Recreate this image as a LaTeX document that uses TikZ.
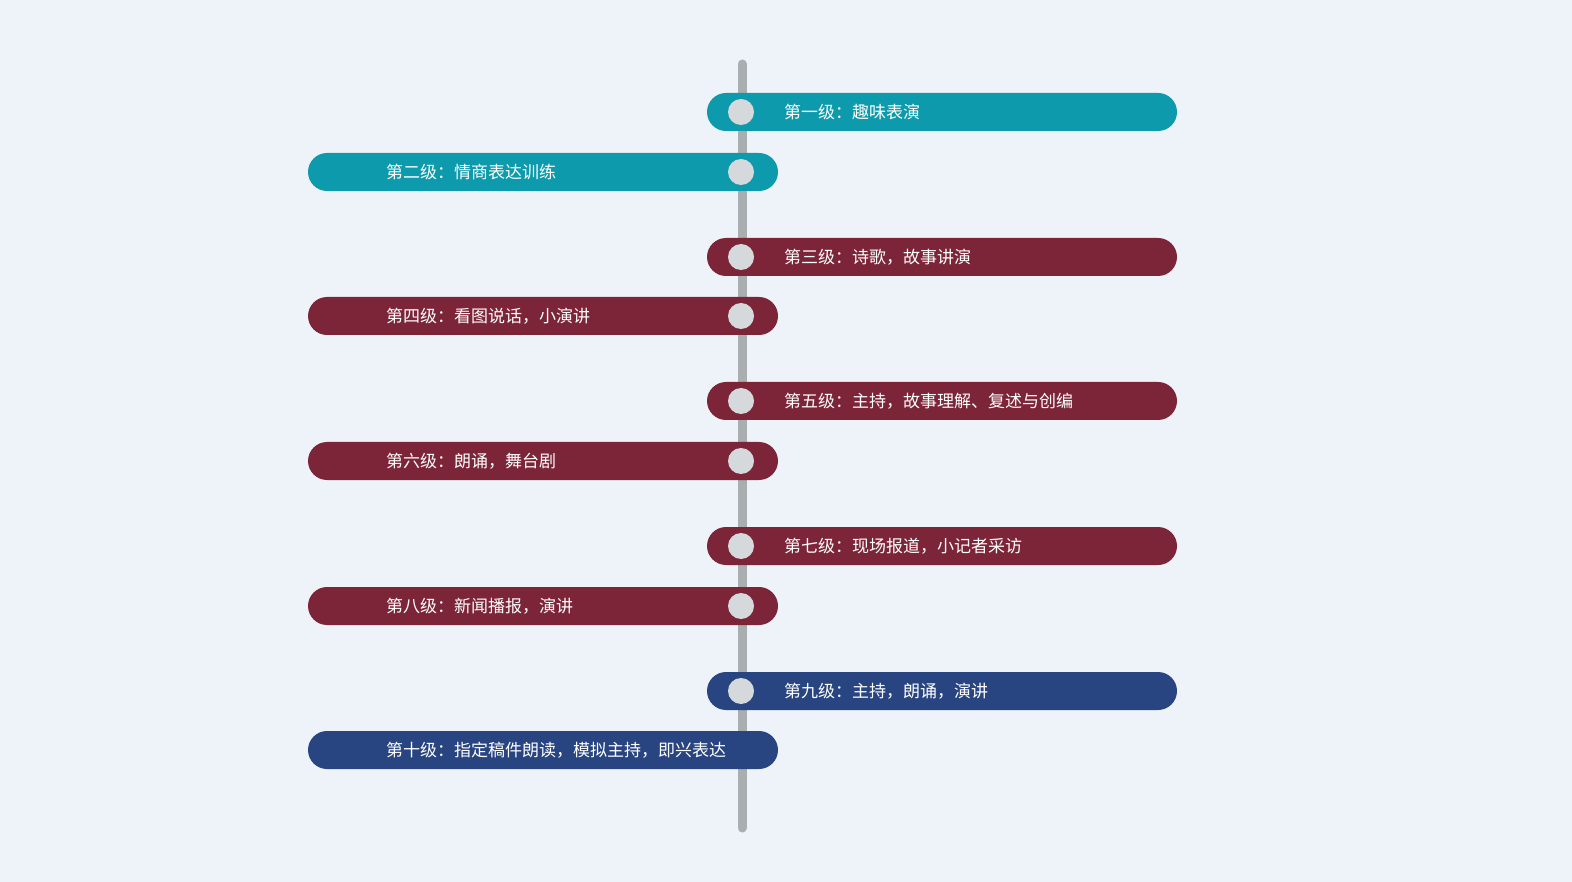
\documentclass[tikz,border=0pt]{standalone}
\usepackage{fontspec}
\newfontfamily\cjk{Noto Sans CJK SC}
\definecolor{bg}{HTML}{EEF3F9}
\definecolor{teal}{HTML}{0C9AAC}
\definecolor{maroon}{HTML}{7D2538}
\definecolor{navy}{HTML}{284582}
\definecolor{axis}{HTML}{A9AEB1}
\definecolor{dot}{HTML}{D5D9DC}
\tikzset{
  bar/.style={rounded corners=19pt, minimum width=470pt, minimum height=38pt, inner sep=0pt},
  lbl/.style={anchor=west, text=white, font=\cjk\fontsize{17pt}{20pt}\selectfont, inner sep=0pt},
  dotc/.style={circle, fill=dot, minimum size=26pt, inner sep=0pt}
}
\begin{document}
\begin{tikzpicture}[x=1pt,y=-1pt]
\fill[bg] (0,0) rectangle (1572,882);
\useasboundingbox (0,0) rectangle (1572,882);
\coordinate (top) at (742,64);
\coordinate (bot) at (742,828);
\draw[axis, line width=9pt, line cap=round] (top) -- (bot);
\foreach \n/\y/\c/\t in {1/112/teal/第一级：趣味表演, 3/257/maroon/第三级：诗歌，故事讲演, 5/401/maroon/第五级：主持，故事理解、复述与创编, 7/546/maroon/第七级：现场报道，小记者采访, 9/691/navy/第九级：主持，朗诵，演讲}{
  \node[bar, fill=\c] (b\n) at (942,\y) {};
  \node[lbl] (t\n) at (784,\y) {\t};
  \node[dotc] (d\n) at (741,\y) {};
}
\foreach \n/\y/\c/\t in {2/172/teal/第二级：情商表达训练, 4/316/maroon/第四级：看图说话，小演讲, 6/461/maroon/第六级：朗诵，舞台剧/童话剧, 8/606/maroon/第八级：新闻播报，演讲}{
  \node[bar, fill=\c] (b\n) at (543,\y) {};
  \node[lbl] (t\n) at (386,\y) {\t};
  \node[dotc] (d\n) at (741,\y) {};
}
\node[bar, fill=navy] (b10) at (543,750) {};
\node[lbl] (t10) at (386,750) {第十级：指定稿件朗读，模拟主持，即兴表达};
\end{tikzpicture}
\end{document}
